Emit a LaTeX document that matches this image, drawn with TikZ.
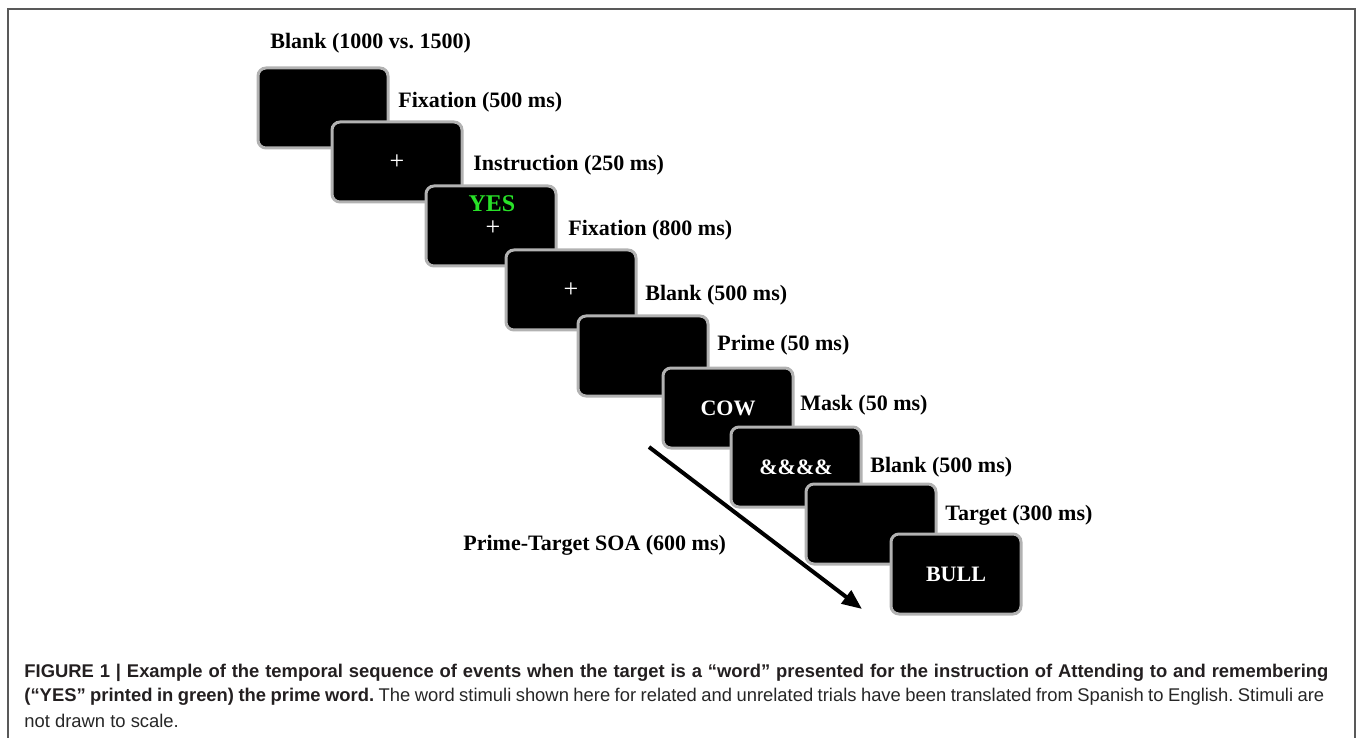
\documentclass[tikz,border=0pt]{standalone}
\usepackage{fontspec}
\setmainfont{Liberation Serif}
\newfontfamily\capfont{Liberation Sans}
\usetikzlibrary{positioning, arrows.meta}
\definecolor{yesgreen}{RGB}{40,225,40}
\definecolor{captxt}{RGB}{35,31,32}
\frenchspacing

\begin{document}
\begin{tikzpicture}[
        x=0.5pt, y=-0.5pt,
        screen/.style={draw=gray!60, line width=1.5pt, fill=black, rounded corners=4pt,
            minimum width=65pt, minimum height=40pt, inner sep=0pt,
            font=\fontsize{11}{12}\selectfont\bfseries, text=white},
        cross/.style={text=white, inner sep=0pt, font=\fontsize{13}{13}\selectfont},
        lbl/.style={anchor=west, inner sep=0pt, font=\fontsize{11}{13}\selectfont\bfseries},
        captext/.style={anchor=west, inner sep=0pt, font=\capfont\fontsize{9.2}{11}\selectfont, text=captxt},
        >={Triangle[length=10pt, width=8pt]}
    ]
    \useasboundingbox (0,0) rectangle (1357,738);

    %% ---- Frame ----
    \draw[gray!70!black, line width=1pt] (8,738) |- (1355,9) -- (1355,738);

    %% ---- Screens ----
    \node[screen] (s1) at (323,108) {};
    \node[screen] (s2) at (397,162) {};
    \node[cross] at (s2) {+};
    \node[screen] (s3) at (491,226) {};
    \node[inner sep=0pt, text=yesgreen, font=\fontsize{12}{12}\selectfont\bfseries] (yes) at (492,204) {YES};
    \node[cross] at (493,228) {+};
    \node[screen] (s4) at (571,290) {};
    \node[cross] at (s4) {+};
    \node[screen] (s5) at (643,356) {};
    \node[screen] (s6) at (728,408) {COW};
    \node[screen] (s7) at (796,467) {\&\&\&\&};
    \node[screen] (s8) at (871,524) {};
    \node[screen] (s9) at (956,574) {BULL};

    %% ---- Durations ----
    \node[lbl] (blank1) at (270,43)  {Blank (1000 vs. 1500)};
    \node[lbl] (fix1)   at (398,102) {Fixation (500 ms)};
    \node[lbl] (instr)  at (473,165) {Instruction (250 ms)};
    \node[lbl] (fix2)   at (568,230) {Fixation (800 ms)};
    \node[lbl] (blank2) at (645,295) {Blank (500 ms)};
    \node[lbl] (prime)  at (717,345) {Prime (50 ms)};
    \node[lbl] (mask)   at (800,405) {Mask (50 ms)};
    \node[lbl] (blank3) at (870,467) {Blank (500 ms)};
    \node[lbl] (target) at (945,515) {Target (300 ms)};

    %% ---- SOA arrow ----
    \coordinate (soa1) at (649,447);
    \coordinate (soa2) at (862,609);
    \draw[->, line width=2pt] (soa1) -- (soa2);
    \node[lbl] (soa) at (463,545) {Prime-Target SOA (600 ms)};

    %% ---- Caption ----
    \node[captext] (cap1) at (24,673) {\makebox[652pt][s]{\bfseries FIGURE 1 | Example of the temporal sequence of events when the target is a “word” presented for the instruction of Attending to and remembering}};
    \node[captext] (cap2) at (24,697) {\makebox[650pt][s]{{\bfseries (“YES” printed in green) the prime word.} {\color{black!85}The word stimuli shown here for related and unrelated trials have been translated from Spanish to English. Stimuli are}}};
    \node[captext, text=black!85] (cap3) at (24,721) {not drawn to scale.};

\end{tikzpicture}
\end{document}
